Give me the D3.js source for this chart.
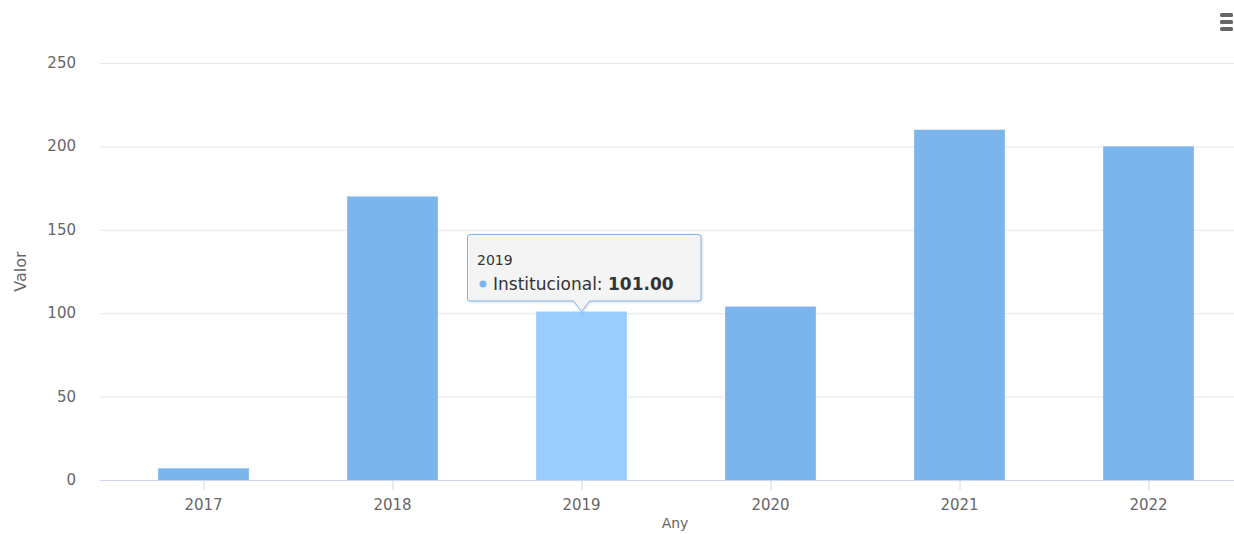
<!DOCTYPE html>
<html>
<head>
<meta charset="utf-8">
<script src="https://cdn.jsdelivr.net/npm/d3@7"></script>
<style>
  body { margin: 0; background: #fff; }
  svg { display: block; font-family: "DejaVu Sans", "Lucida Grande", sans-serif; }
</style>
</head>
<body>
<svg id="chart" width="1234" height="534"></svg>
<script>
const years = ["2017", "2018", "2019", "2020", "2021", "2022"];
const values = [7, 170, 101, 104, 210, 200];
const yTicks = [0, 50, 100, 150, 200, 250];
const seriesName = "Institucional";
const hoverYear = "2019";

const svg = d3.select("#chart");

// plot area
const plotLeft = 100, plotRight = 1234, plotTop = 63, plotBottom = 480;

const x = d3.scaleBand().domain(years).range([109, 1243]).paddingInner(0.52).paddingOuter(0.26);
const y = d3.scaleLinear().domain([0, 250]).range([plotBottom, plotTop]);

// grid
svg.append("g")
  .selectAll("line")
  .data(yTicks.filter((d) => d > 0))
  .join("line")
  .attr("x1", plotLeft).attr("x2", plotRight)
  .attr("y1", (d) => y(d) + 0.5).attr("y2", (d) => y(d) + 0.5)
  .attr("stroke", "#e6e6e6");

// y labels
svg.append("g")
  .selectAll("text")
  .data(yTicks)
  .join("text")
  .attr("x", 76)
  .attr("y", (d) => y(d) + 5)
  .attr("text-anchor", "end")
  .attr("fill", "#666")
  .attr("font-size", 15)
  .text((d) => d);

svg.append("text")
  .attr("transform", `translate(26,${(plotTop + plotBottom) / 2}) rotate(-90)`)
  .attr("text-anchor", "middle")
  .attr("fill", "#666")
  .attr("font-size", 16)
  .text("Valor");

// bars
svg.append("g")
  .selectAll("rect")
  .data(years)
  .join("rect")
  .attr("x", (d) => x(d))
  .attr("width", x.bandwidth())
  .attr("y", (d, i) => y(values[i]))
  .attr("height", (d, i) => plotBottom - y(values[i]))
  .attr("fill", (d) => (d === hoverYear ? "#99ccff" : "#7cb5ec"));

// x axis line and ticks
svg.append("line")
  .attr("x1", plotLeft).attr("x2", plotRight)
  .attr("y1", plotBottom + 0.5).attr("y2", plotBottom + 0.5)
  .attr("stroke", "#ccd6eb");

const xc = (d) => x(d) + x.bandwidth() / 2;

svg.append("g")
  .selectAll("line")
  .data(years)
  .join("line")
  .attr("x1", (d) => xc(d) + 0.5).attr("x2", (d) => xc(d) + 0.5)
  .attr("y1", plotBottom).attr("y2", plotBottom + 10)
  .attr("stroke", "#ccd6eb");

svg.append("g")
  .selectAll("text")
  .data(years)
  .join("text")
  .attr("x", xc)
  .attr("y", 510)
  .attr("text-anchor", "middle")
  .attr("fill", "#666")
  .attr("font-size", 15)
  .text((d) => d);

// axis title at the bottom edge
svg.append("text")
  .attr("x", 675)
  .attr("y", 528)
  .attr("text-anchor", "middle")
  .attr("fill", "#666")
  .attr("font-size", 14)
  .text("Any");

// menu icon
svg.append("g")
  .selectAll("rect")
  .data([0, 1, 2])
  .join("rect")
  .attr("x", 1220).attr("y", (d) => 13 + d * 7)
  .attr("width", 13).attr("height", 4).attr("rx", 1.5)
  .attr("fill", "#666");

// tooltip
const hi = years.indexOf(hoverYear);
const tx = xc(hoverYear), ty = y(values[hi]);
const bx = 467, by = 234, bw = 234, bh = 67;
const tip = svg.append("g");
tip.append("path")
  .attr("d", `M${bx + 3},${by + 0.5} H${bx + bw - 3} Q${bx + bw},${by + 0.5} ${bx + bw},${by + 3} V${by + bh - 3} Q${bx + bw},${by + bh} ${bx + bw - 3},${by + bh} H${tx + 8} L${tx},${ty} L${tx - 8},${by + bh} H${bx + 3} Q${bx + 0.5},${by + bh} ${bx + 0.5},${by + bh - 3} V${by + 3} Q${bx + 0.5},${by + 0.5} ${bx + 3},${by + 0.5} Z`)
  .attr("fill", "rgba(247,247,247,0.85)")
  .attr("stroke", "#7cb5ec")
  .attr("stroke-width", 1)
  .style("filter", "drop-shadow(1px 1px 1px rgba(0,0,0,0.15))");

tip.append("text")
  .attr("x", bx + 10).attr("y", by + 31)
  .attr("fill", "#333").attr("font-size", 14)
  .text(hoverYear);

tip.append("circle")
  .attr("cx", bx + 16).attr("cy", by + 50).attr("r", 3.5)
  .attr("fill", "#7cb5ec");

const line = tip.append("text")
  .attr("x", bx + 26).attr("y", by + 56)
  .attr("fill", "#333").attr("font-size", 17);
line.append("tspan").text(seriesName + ": ");
line.append("tspan").attr("font-weight", "bold").text(values[hi].toFixed(2));
</script>
</body>
</html>
